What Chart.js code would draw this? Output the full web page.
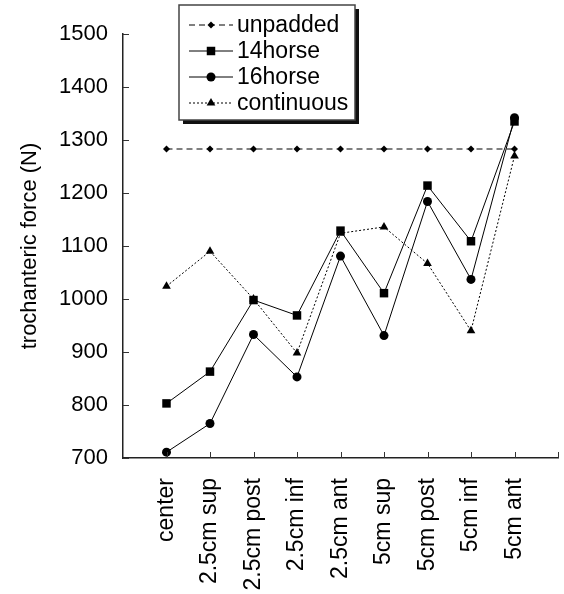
<!DOCTYPE html>
<html>
<head>
<meta charset="utf-8">
<script src="https://cdn.jsdelivr.net/npm/chart.js@4"></script>
<style>
  html, body { margin: 0; padding: 0; background: #ffffff; }
  #wrap { width: 564px; height: 594px; }
</style>
</head>
<body>
<div id="wrap"><canvas id="myChart" width="564" height="594"></canvas></div>
<script>
const categories = ['center', '2.5cm sup', '2.5cm post', '2.5cm inf', '2.5cm ant',
                    '5cm sup', '5cm post', '5cm inf', '5cm ant'];
const unpadded   = [1283, 1283, 1283, 1283, 1283, 1283, 1283, 1283, 1283];
const horse14    = [803, 863, 998, 969, 1129, 1011, 1214, 1109, 1335];
const horse16    = [711, 765, 933, 853, 1081, 931, 1184, 1037, 1342];
const continuous = [1024, 1090, 1000, 898, 1124, 1136, 1067, 940, 1270];
const yTicks     = [700, 800, 900, 1000, 1100, 1200, 1300, 1400, 1500];

const FONT = "'Liberation Sans', Arial, sans-serif";

function points(values) {
    return values.map(function(v, i) { return { x: i + 1, y: v }; });
}

// legend box drawn by hand, it has line + marker samples
const boxLegend = {
    id: 'boxLegend',
    afterDraw(chart) {
        const ctx = chart.ctx;
        const x0 = 179, y0 = 5, w = 176, h = 115;
        ctx.save();
        ctx.fillStyle = '#111';
        ctx.fillRect(x0 + 4, y0 + 4, w, h);
        ctx.fillStyle = '#fff';
        ctx.fillRect(x0, y0, w, h);
        ctx.strokeStyle = '#444';
        ctx.lineWidth = 1.5;
        ctx.strokeRect(x0, y0, w, h);

        const rows = [25, 51, 77, 103];
        chart.data.datasets.forEach(function(ds, i) {
            const yy = rows[i];
            ctx.save();
            ctx.strokeStyle = '#000';
            ctx.lineWidth = 1;
            ctx.setLineDash(ds.borderDash || []);
            ctx.beginPath();
            ctx.moveTo(189, yy);
            ctx.lineTo(233, yy);
            ctx.stroke();
            ctx.restore();
            ctx.fillStyle = '#000';
            Chart.helpers.drawPoint(ctx, {
                pointStyle: ds.pointStyle,
                radius: ds.pointRadius,
                borderWidth: 0
            }, 211, yy);
            ctx.fillStyle = '#000';
            ctx.font = '23px ' + FONT;
            ctx.textBaseline = 'middle';
            ctx.textAlign = 'left';
            ctx.fillText(ds.label, 237, yy + 1);
        });
        ctx.restore();
    }
};

// short tick marks pointing into the plot
const innerTicks = {
    id: 'innerTicks',
    afterDatasetsDraw(chart) {
        const ctx = chart.ctx;
        const xs = chart.scales.x, ys = chart.scales.y;
        ctx.save();
        ctx.strokeStyle = '#333';
        ctx.lineWidth = 1;
        yTicks.forEach(function(v) {
            const py = Math.round(ys.getPixelForValue(v)) + 0.5;
            ctx.beginPath();
            ctx.moveTo(xs.left, py);
            ctx.lineTo(xs.left + 6, py);
            ctx.stroke();
        });
        for (let i = 1; i <= categories.length + 1; i++) {
            const px = Math.round(xs.getPixelForValue(i)) + 0.5;
            ctx.beginPath();
            ctx.moveTo(px, ys.bottom);
            ctx.lineTo(px, ys.bottom - 6);
            ctx.stroke();
        }
        ctx.restore();
    }
};

const data = {
    datasets: [{
        label: 'unpadded',
        data: points(unpadded),
        borderColor: '#000',
        backgroundColor: '#000',
        borderWidth: 1,
        borderDash: [6, 4],
        pointStyle: 'rectRot',
        pointRadius: 3.5,
        pointBorderWidth: 0
    }, {
        label: '14horse',
        data: points(horse14),
        borderColor: '#000',
        backgroundColor: '#000',
        borderWidth: 1,
        pointStyle: 'rect',
        pointRadius: 6,
        pointBorderWidth: 0
    }, {
        label: '16horse',
        data: points(horse16),
        borderColor: '#000',
        backgroundColor: '#000',
        borderWidth: 1,
        pointStyle: 'circle',
        pointRadius: 4.5,
        pointBorderWidth: 0
    }, {
        label: 'continuous',
        data: points(continuous),
        borderColor: '#000',
        backgroundColor: '#000',
        borderWidth: 1,
        borderDash: [2, 2],
        pointStyle: 'triangle',
        pointRadius: 5,
        pointBorderWidth: 0
    }]
};

const config = {
    type: 'line',
    data: data,
    options: {
        responsive: false,
        animation: false,
        clip: false,
        layout: { padding: { top: 34, right: 2, left: 0, bottom: 0 } },
        plugins: {
            legend: { display: false },
            tooltip: { enabled: false }
        },
        scales: {
            x: {
                type: 'linear',
                min: 0,
                max: 10,
                afterBuildTicks: function(scale) {
                    scale.ticks = categories.map(function(c, i) { return { value: i + 1 }; });
                },
                afterFit: function(scale) { scale.height = 136; },
                grid: { drawOnChartArea: false, drawTicks: false },
                border: { display: true, color: '#222', width: 1.5 },
                ticks: {
                    autoSkip: false,
                    maxRotation: 90,
                    minRotation: 90,
                    padding: 20,
                    color: '#000',
                    font: { family: FONT, size: 23 },
                    callback: function(v) { return categories[v - 1]; }
                }
            },
            y: {
                min: 700,
                max: 1500,
                afterFit: function(scale) { scale.width = 123; },
                grid: { drawOnChartArea: false, drawTicks: false },
                border: { display: true, color: '#222', width: 1.5 },
                ticks: {
                    stepSize: 100,
                    padding: 15,
                    color: '#000',
                    font: { family: FONT, size: 22 },
                    callback: function(v) { return String(v); }
                },
                title: {
                    display: true,
                    text: 'trochanteric force (N)',
                    color: '#000',
                    font: { family: FONT, size: 22 },
                    padding: { top: 17, bottom: 0 }
                }
            }
        }
    },
    plugins: [innerTicks, boxLegend]
};

const myChart = new Chart(document.getElementById('myChart'), config);
</script>
</body>
</html>
